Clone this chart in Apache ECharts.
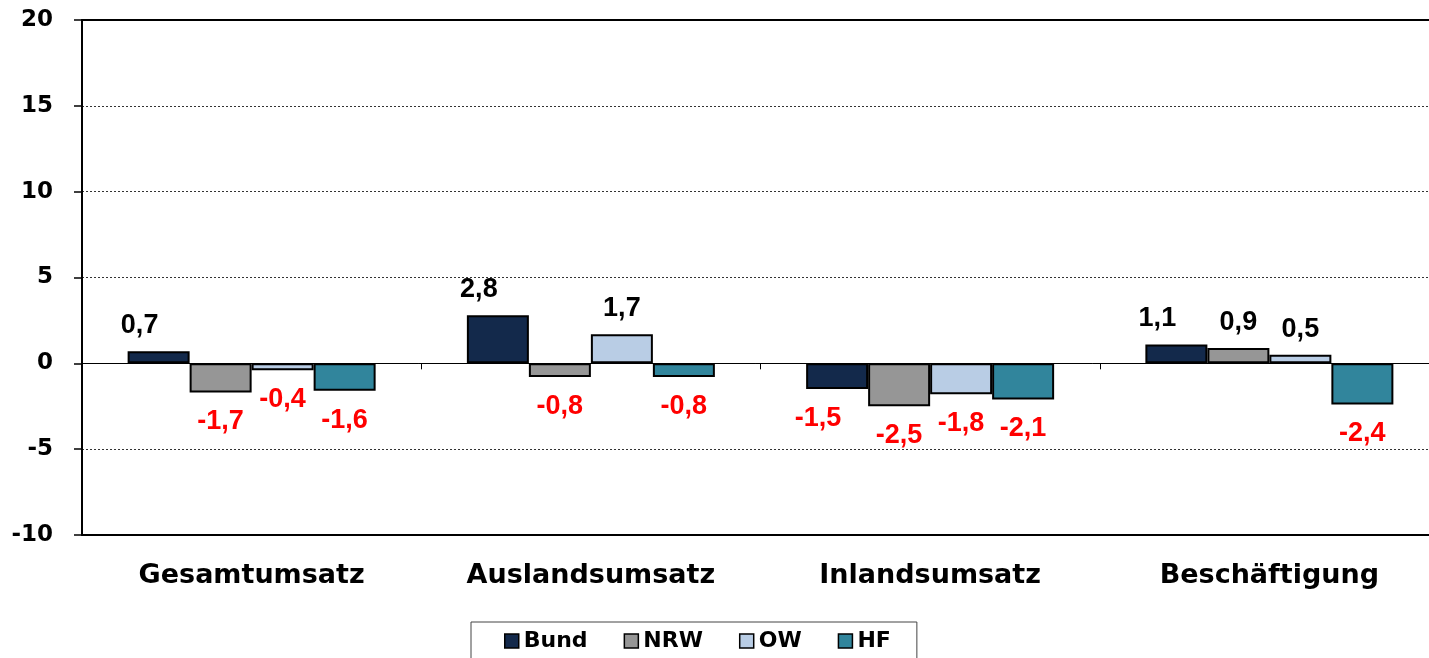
<!DOCTYPE html>
<html>
<head>
<meta charset="utf-8">
<script src="https://cdn.jsdelivr.net/npm/echarts@6/dist/echarts.min.js"></script>
<style>
html,body{margin:0;padding:0;background:#fff;overflow:hidden;}
#chart{width:1429px;height:658px;}
</style>
</head>
<body>
<div id="chart"></div>
<script>
const categories = ['Gesamtumsatz', 'Auslandsumsatz', 'Inlandsumsatz', 'Beschäftigung'];
const seriesNames = ['Bund', 'NRW', 'OW', 'HF'];
const bund = [0.7, 2.8, -1.5, 1.1];
const nrw = [-1.7, -0.8, -2.5, 0.9];
const ow = [-0.4, 1.7, -1.8, 0.5];
const hf = [-1.6, -0.8, -2.1, -2.4];
const yTicks = [-10, -5, 0, 5, 10, 15, 20];

const colors = ['#13294b', '#969696', '#b9cde5', '#31859c'];
const axisFont = 'DejaVu Sans';
const labelFont = 'Liberation Sans';

function items(values) {
  return values.map(v => ({
    value: v,
    label: {
      position: v < 0 ? 'bottom' : 'top',
      distance: v < 0 ? 16 : 12,
      color: v < 0 ? '#ff0000' : '#000000'
    }
  }));
}

const allValues = [bund, nrw, ow, hf];
const series = seriesNames.map((name, i) => ({
  name: name,
  type: 'bar',
  xAxisIndex: 0,
  barWidth: 62,
  barGap: '0%',
  itemStyle: { color: colors[i], borderColor: '#000', borderWidth: 2 },
  label: {
    show: true,
    fontFamily: labelFont,
    fontWeight: 'bold',
    fontSize: 27,
    offset: i === 0 ? [-19, 0] : [0, 0],
    formatter: p => p.value.toFixed(1).replace('.', ',')
  },
  data: items(allValues[i])
}));

const chart = echarts.init(document.getElementById('chart'));
chart.setOption({
  backgroundColor: '#fff',
  animation: false,
  grid: { left: 82, top: 20, width: 1357, height: 515, containLabel: false, outerBoundsMode: 'none' },
  legend: {
    data: seriesNames,
    left: 471,
    top: 622,
    icon: 'rect',
    itemWidth: 14,
    itemHeight: 14,
    itemGap: 36,
    padding: [8, 26, 8, 33],
    borderColor: '#444',
    borderWidth: 1,
    itemStyle: { borderColor: '#000', borderWidth: 1.5 },
    textStyle: { fontFamily: axisFont, fontWeight: 'bold', fontSize: 22, color: '#000' }
  },
  xAxis: [
    {
      type: 'category', data: categories, position: 'bottom',
      axisLine: { onZero: false, lineStyle: { color: '#000', width: 2 } },
      axisTick: { show: false },
      axisLabel: { margin: 27, fontFamily: axisFont, fontWeight: 'bold', fontSize: 27, color: '#000' },
      splitLine: { show: false }
    },
    {
      type: 'category', data: categories, position: 'bottom',
      axisLine: { onZero: true, lineStyle: { color: '#000', width: 1 } },
      axisTick: { show: true, length: 6, lineStyle: { color: '#000', width: 1 } },
      axisLabel: { show: false },
      splitLine: { show: false }
    },
    {
      type: 'category', data: categories, position: 'top',
      axisLine: { onZero: false, lineStyle: { color: '#000', width: 2 } },
      axisTick: { show: false },
      axisLabel: { show: false },
      splitLine: { show: false }
    }
  ],
  yAxis: {
    type: 'value',
    min: yTicks[0],
    max: yTicks[yTicks.length - 1],
    interval: 5,
    axisLine: { show: true, lineStyle: { color: '#000', width: 2 } },
    axisTick: { show: true, length: 8, lineStyle: { color: '#000', width: 1.5 } },
    axisLabel: { margin: 29, fontFamily: axisFont, fontWeight: 'bold', fontSize: 23, color: '#000' },
    splitLine: { show: true, lineStyle: { color: '#333', width: 1, type: [2, 2] } }
  },
  series: series
});
</script>
</body>
</html>
